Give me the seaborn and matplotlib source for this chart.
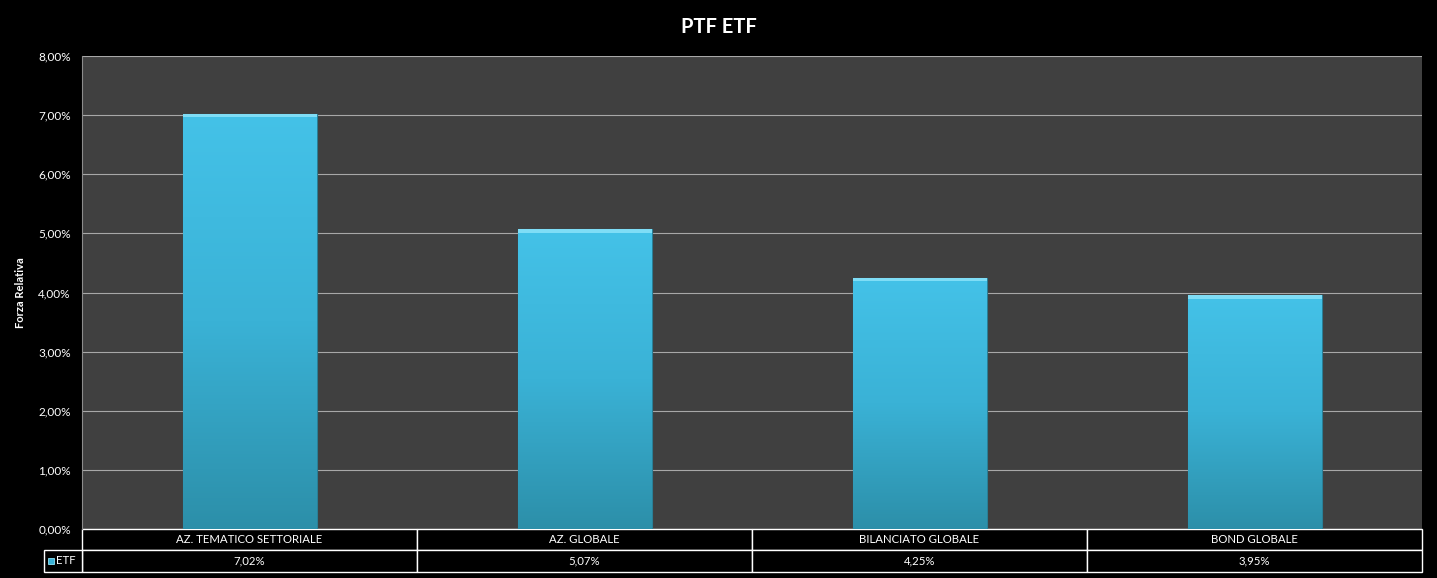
import numpy as np
import pandas as pd
import matplotlib
matplotlib.use("Agg")
import matplotlib.pyplot as plt
import matplotlib.transforms as mtransforms
import seaborn as sns
from matplotlib.colors import LinearSegmentedColormap
from matplotlib.patches import Rectangle

# data
categories = ["AZ. TEMATICO SETTORIALE", "AZ. GLOBALE", "BILANCIATO GLOBALE", "BOND GLOBALE"]
etf_values = [7.02, 5.07, 4.25, 3.95]
y_ticks = [0, 1, 2, 3, 4, 5, 6, 7, 8]
series_name = "ETF"
title = "PTF ETF"
y_label = "Forza Relativa"


def pct(v):
    return f"{v:.2f}%".replace(".", ",")


df = pd.DataFrame({"categoria": categories, "forza": etf_values})

sns.set_theme(style="dark")
plt.rcParams["font.family"] = ["Lato", "DejaVu Sans"]

W, H = 1437, 578
fig = plt.figure(figsize=(W / 100, H / 100), dpi=100, facecolor="black")
ax = fig.add_axes([82 / W, 1 - 529 / H, 1340 / W, 473 / H])
ax.set_facecolor("#404040")

sns.barplot(data=df, x="categoria", y="forza", ax=ax, width=0.4,
            color="#3DB8DC", saturation=1, zorder=2)

# vertical gradient on each bar
grad = LinearSegmentedColormap.from_list("bar", ["#2C8FA9", "#3AB2D6", "#44C2E8"])
gimg = np.linspace(0, 1, 256).reshape(-1, 1)
for p in ax.patches:
    x, w, h = p.get_x(), p.get_width(), p.get_height()
    p.set_edgecolor("#2A7F96")
    p.set_linewidth(0.8)
    im = ax.imshow(gimg, cmap=grad, origin="lower", aspect="auto",
                   extent=[x, x + w, 0, h], zorder=2.5)
    im.set_clip_path(p)
    ax.add_patch(Rectangle((x, h - 0.06), w, 0.06, facecolor="#7FDDF6",
                           edgecolor="none", zorder=3))

ax.set_xlim(-0.5, len(categories) - 0.5)
ax.set_ylim(y_ticks[0], y_ticks[-1])
ax.set_yticks(y_ticks)
ax.set_yticklabels([pct(v) for v in y_ticks], color="white", fontsize=8.5)
ax.tick_params(axis="y", length=0, pad=8)
ax.set_xticks([])
ax.set_xlabel("")
ax.yaxis.grid(True, color="#A8A8A8", lw=0.8, zorder=1)
ax.xaxis.grid(False)
for side in ["top", "right", "bottom"]:
    ax.spines[side].set_visible(False)
ax.spines["left"].set_color("#8C8C8C")
ax.spines["left"].set_linewidth(0.8)

ax.set_ylabel(y_label, color="white", fontsize=8, fontweight="bold")
ax.yaxis.set_label_coords(-(82 - 26) / 1340, 0.5)

fig.text(0.5, 1 - 27 / H, title, color="white", fontsize=14.5,
         fontweight="bold", ha="center", va="center")

# data table under the plot
trans = mtransforms.blended_transform_factory(ax.transData, ax.transAxes)
r1 = -21 / 473
r2 = -43 / 473
for i, (cat, v) in enumerate(zip(categories, etf_values)):
    ax.add_patch(Rectangle((i - 0.5, r1), 1, -r1, transform=trans, clip_on=False,
                           facecolor="black", edgecolor="white", lw=1.0))
    ax.add_patch(Rectangle((i - 0.5, r2), 1, r1 - r2, transform=trans, clip_on=False,
                           facecolor="black", edgecolor="white", lw=1.0))
    ax.text(i, r1 / 2, cat, transform=trans, color="white", fontsize=8.2,
            ha="center", va="center")
    ax.text(i, (r1 + r2) / 2, pct(v), transform=trans, color="white", fontsize=8.2,
            ha="center", va="center")

lx = -38 / 1340
ax.add_patch(Rectangle((lx, r2), -lx, r1 - r2, transform=ax.transAxes, clip_on=False,
                       facecolor="black", edgecolor="white", lw=1.0))
ax.add_patch(Rectangle((-34 / 1340, (r1 + r2) / 2 - 3 / 473), 6 / 1340, 6 / 473,
                       transform=ax.transAxes, clip_on=False,
                       facecolor="#3AB2D6", edgecolor="#8FE3F7", lw=0.6))
ax.text(-26 / 1340, (r1 + r2) / 2, series_name, transform=ax.transAxes,
        color="white", fontsize=8.2, ha="left", va="center")

fig.savefig("out.png", dpi=100, facecolor="black")
